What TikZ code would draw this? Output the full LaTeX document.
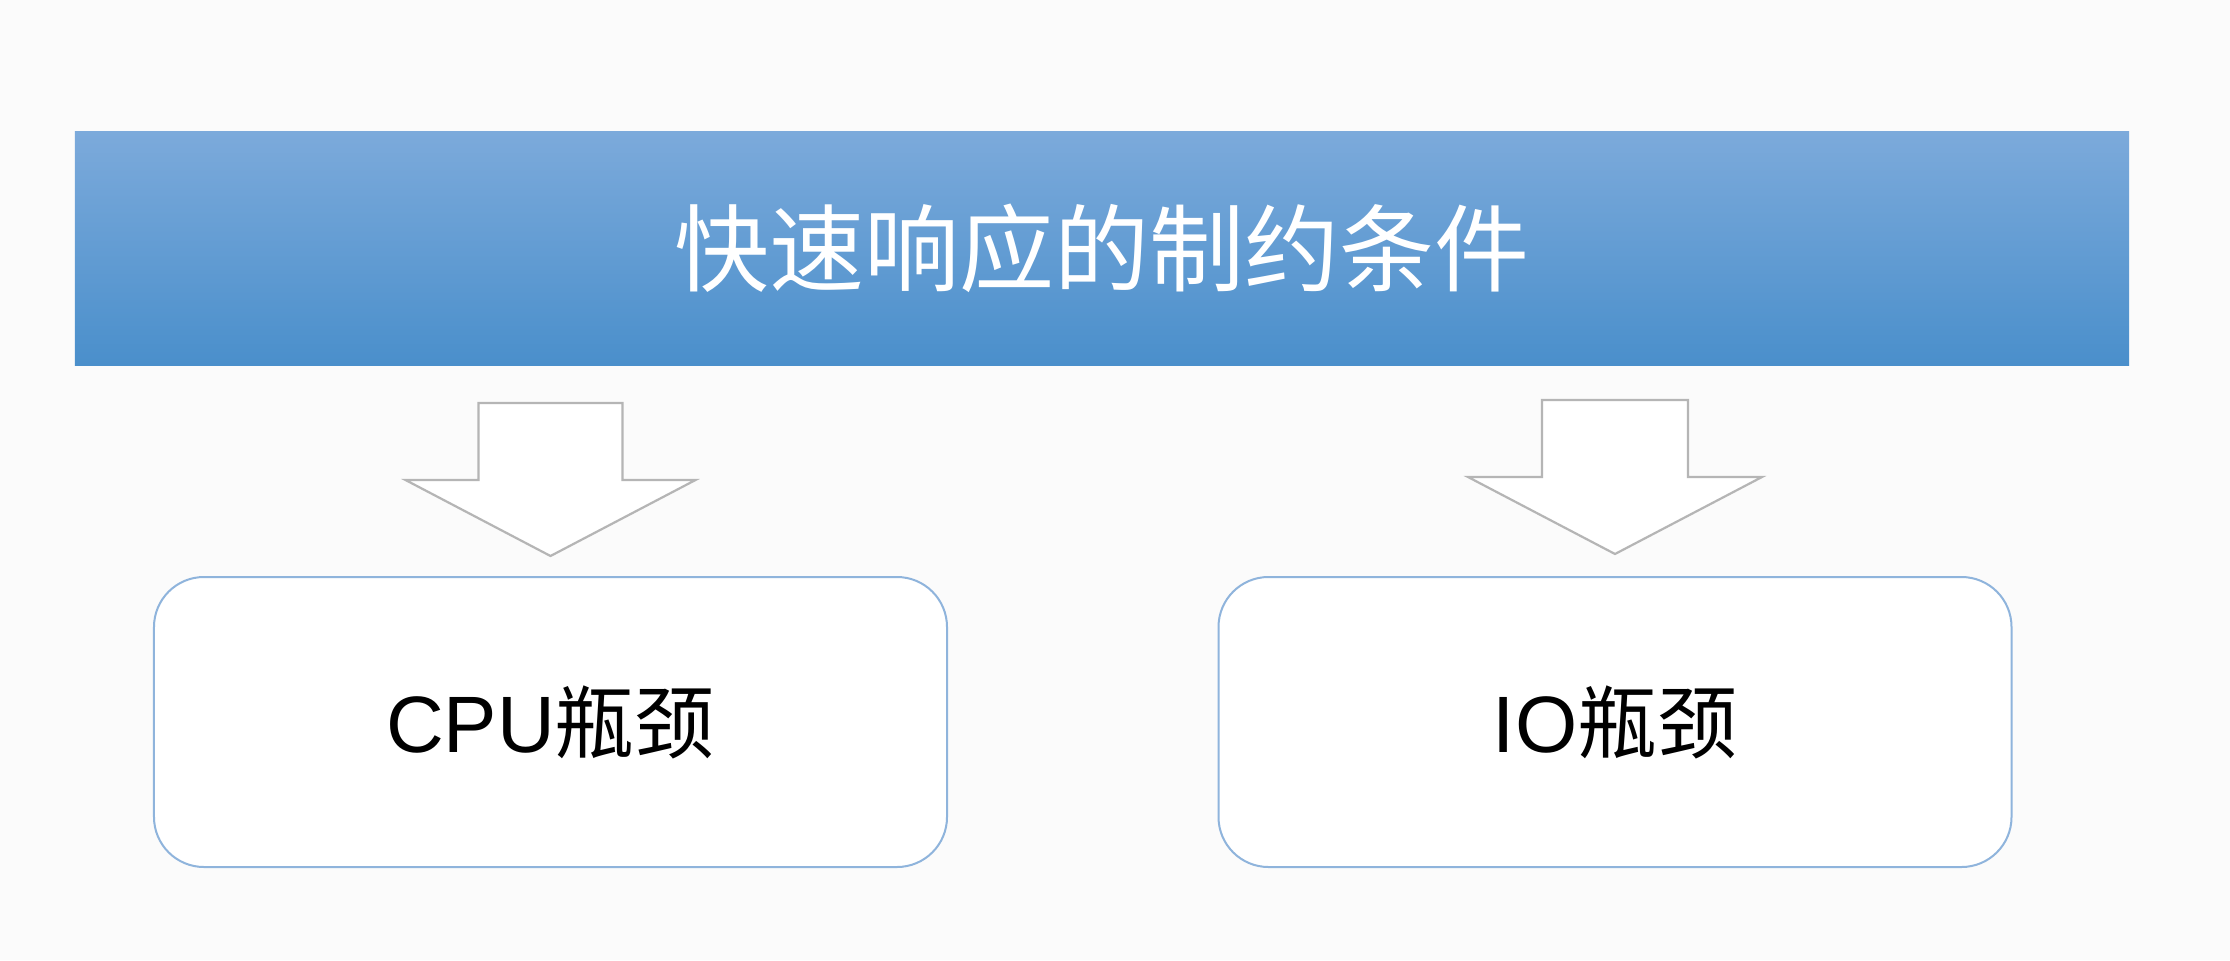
\documentclass[tikz,border=0pt]{standalone}
\usepackage{fontspec}
\setmainfont{Noto Sans CJK SC}
\newfontfamily\latinsans{Liberation Sans}
\definecolor{bgcol}{HTML}{FBFBFB}
\definecolor{bantop}{HTML}{7CAADB}
\definecolor{banbot}{HTML}{4A8FCB}
\definecolor{boxline}{HTML}{8FB4DC}
\definecolor{arrline}{HTML}{B5B5B5}
\tikzset{
  banner/.style={rectangle, inner sep=0pt, minimum width=2054bp, minimum height=234bp,
    top color=bantop, bottom color=banbot, draw=none, text=white,
    font=\fontsize{95bp}{100bp}\selectfont},
  bottlebox/.style={rectangle, rounded corners=50bp, draw=boxline, line width=2bp, fill=white,
    minimum width=793bp, minimum height=290bp, inner sep=0pt, text=black,
    font=\fontsize{80bp}{85bp}\selectfont},
  hollowarrow/.style={draw=arrline, line width=2.2bp, fill=white, line join=miter}
}
\begin{document}
\begin{tikzpicture}[x=1bp,y=-1bp]
\useasboundingbox (0,0) rectangle (2230,960);
\fill[bgcol] (0,0) rectangle (2230,960);
\node[banner] (head) at (1102,248) {快速响应的制约条件};
\node[bottlebox] (cpu) at (550.5,722) {{\latinsans CPU}瓶颈};
\node[bottlebox] (io) at (1615,722) {{\latinsans IO}瓶颈};
\begin{scope}[shift={(cpu.north)}]
  \coordinate (a1) at (0,-20);
  \draw[hollowarrow] (-72,-173) -- (-72,-96) -- (-145,-96) -- (a1) -- (145,-96) -- (72,-96) -- (72,-173) -- cycle;
\end{scope}
\begin{scope}[shift={(io.north)}]
  \coordinate (a2) at (0,-22);
  \draw[hollowarrow] (-73,-176) -- (-73,-99) -- (-147,-99) -- (a2) -- (147,-99) -- (73,-99) -- (73,-176) -- cycle;
\end{scope}
\end{tikzpicture}
\end{document}
